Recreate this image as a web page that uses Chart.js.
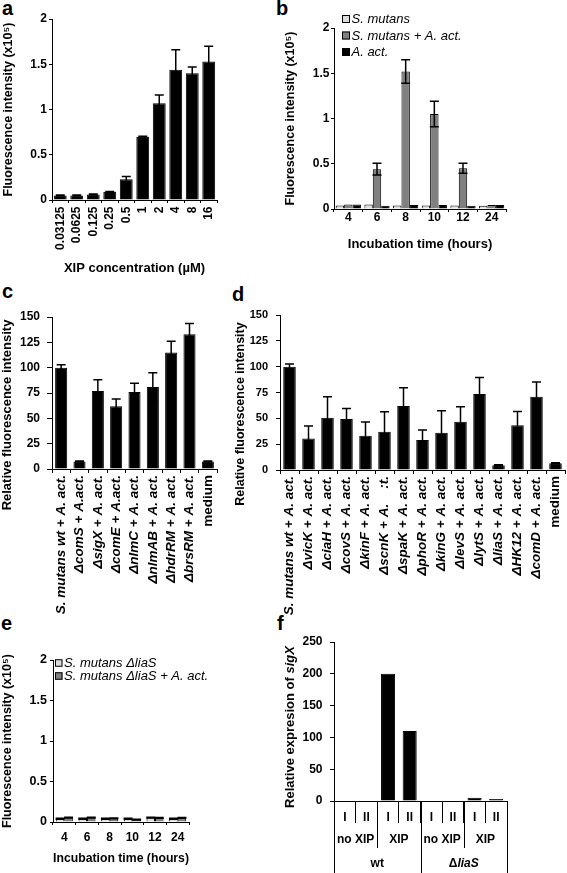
<!DOCTYPE html>
<html>
<head>
<meta charset="utf-8">
<script src="https://cdn.jsdelivr.net/npm/chart.js@4.4.1/dist/chart.umd.min.js"></script>
<style>
  body { margin: 0; background: #fff; width: 567px; height: 873px; position: relative; overflow: hidden; }
  canvas { position: absolute; }
  .lbl { position: absolute; font: bold 20px 'Liberation Sans', Arial, sans-serif; line-height: 20px; color: #000; }
</style>
</head>
<body>
<div class="lbl" style="left:2px;top:-2px">a</div>
<div class="lbl" style="left:276px;top:-2px">b</div>
<div class="lbl" style="left:2px;top:281px">c</div>
<div class="lbl" style="left:232px;top:284px">d</div>
<div class="lbl" style="left:1px;top:613px">e</div>
<div class="lbl" style="left:277px;top:613px">f</div>

<canvas id="chartA" width="228" height="276" style="left:0;top:0"></canvas>
<canvas id="chartB" width="284" height="252" style="left:283px;top:0"></canvas>
<canvas id="chartC" width="228" height="325" style="left:0;top:290px"></canvas>
<canvas id="chartD" width="339" height="325" style="left:228px;top:290px"></canvas>
<canvas id="chartE" width="228" height="266" style="left:0;top:600px"></canvas>
<canvas id="chartF" width="284" height="273" style="left:283px;top:600px"></canvas>

<script>
// panel a
const xipConc = ['0.03125', '0.0625', '0.125', '0.25', '0.5', '1', '2', '4', '8', '16'];
const xipFluor = [0.05, 0.05, 0.06, 0.09, 0.23, 0.70, 1.07, 1.44, 1.40, 1.53];
const xipErr = [0.005, 0.005, 0.005, 0.005, 0.03, 0.005, 0.09, 0.22, 0.07, 0.17];

// panel b
const hours = ['4', '6', '8', '10', '12', '24'];
const smutans = [0.04, 0.05, 0.04, 0.04, 0.04, 0.035];
const smutansAact = [0.05, 0.44, 1.52, 1.05, 0.45, 0.045];
const smutansAactErr = [0, 0.065, 0.13, 0.14, 0.055, 0];
const aact = [0.05, 0.035, 0.045, 0.045, 0.035, 0.045];

// panel c
const strainsC = ['S. mutans wt + A. act.', 'ΔcomS + A.act.', 'ΔsigX + A. act.', 'ΔcomE + A.act.',
  'ΔnlmC + A. act.', 'ΔnlmAB + A. act.', 'ΔhdrRM + A. act.', 'ΔbrsRM + A. act.', 'medium'];
const relC = [100, 7.5, 77, 62, 76, 81, 115, 133, 7.5];
const relCErr = [3, 0.5, 11, 7, 8.5, 14, 11, 10.5, 0.5];

// panel d
const strainsD = ['S. mutans wt + A. act.', 'ΔvicK + A. act.', 'ΔciaH + A. act.', 'ΔcovS + A. act.',
  'ΔkinF + A. act.', 'ΔscnK + A.    :t.', 'ΔspaK + A. act.', 'ΔphoR + A. act.', 'ΔkinG + A. act.',
  'ΔlevS + A. act.', 'ΔlytS + A. act.', 'ΔliaS + A. act.', 'ΔHK12 + A. act.', 'ΔcomD + A. act.', 'medium'];
const relD = [100, 30.5, 50.6, 49.4, 33.2, 37, 62, 29, 36, 46.8, 73.5, 4.5, 43.2, 71, 6.5];
const relDErr = [2.6, 12, 20.3, 10, 13.2, 19.4, 17.7, 9.7, 21.3, 14.5, 16.1, 0.6, 13.5, 14.2, 0.6];

// panel e
const liaS = [0.04, 0.04, 0.04, 0.04, 0.055, 0.04];
const liaSErr = [0.005, 0.005, 0.005, 0.005, 0.005, 0.005];
const liaSAact = [0.055, 0.055, 0.045, 0.03, 0.05, 0.05];
const liaSAactErr = [0.005, 0.005, 0.005, 0.005, 0.005, 0.005];

// panel f
const replicates = ['I', 'II', 'I', 'II', 'I', 'II', 'I', 'II'];
const sigX = [0, 0, 200, 110, 0, 0, 5, 3];
const treatments = ['no XIP', 'XIP', 'no XIP', 'XIP'];
const strainsF = ['wt', 'ΔliaS'];

const FONT = "'Liberation Sans', Arial, Helvetica, sans-serif";
Chart.defaults.font.family = FONT;
Chart.defaults.font.weight = 'bold';
Chart.defaults.color = '#000';
Chart.defaults.animation = false;
Chart.defaults.responsive = false;
Chart.defaults.devicePixelRatio = 1;
Chart.defaults.plugins.legend.display = false;
Chart.defaults.plugins.tooltip.enabled = false;

const LIGHT = '#dcdcdc';
const GREY = '#808080';

// keep axis boxes at a fixed size so the plot areas line up with the figure
function fixSize(dim, size) {
  return function (scale) {
    scale[dim] = size;
    scale.paddingLeft = scale.paddingRight = scale.paddingTop = scale.paddingBottom = 0;
  };
}

function yAxis(o) {
  return {
    min: 0, max: o.max,
    ticks: { stepSize: o.step, font: { size: o.tickSize }, padding: o.pad, color: '#000',
      callback: v => String(v) },
    grid: { drawOnChartArea: false, tickLength: o.tl, color: '#000' },
    border: { color: '#000', width: 1 },
    title: { display: !!o.title, text: o.title, font: { size: o.titleSize }, padding: 0, color: '#000' },
    afterFit: fixSize('width', o.width)
  };
}

function xAxis(o) {
  return {
    ticks: { font: o.tickFont || { size: o.tickSize }, padding: o.pad, autoSkip: false,
      maxRotation: o.rot || 0, minRotation: o.rot || 0, color: '#000' },
    grid: { drawOnChartArea: false, tickLength: o.tl, color: '#000', offset: true },
    border: { color: '#000', width: 1 },
    title: { display: !!o.title, text: o.title, font: { size: o.titleSize }, padding: 0, color: '#000' },
    afterFit: fixSize('height', o.height)
  };
}

// strain names in italics, "medium" upright
function strainFont(ctx) {
  const lbl = ctx.chart.data.labels[ctx.index];
  return { size: 13.5, style: lbl === 'medium' ? 'normal' : 'italic' };
}

const errorBars = {
  id: 'errorBars',
  afterDatasetsDraw(chart) {
    const ctx = chart.ctx;
    const y = chart.scales.y;
    chart.data.datasets.forEach((ds, di) => {
      if (!ds.errors) return;
      const meta = chart.getDatasetMeta(di);
      meta.data.forEach((bar, i) => {
        const e = ds.errors[i];
        if (!e) return;
        const v = ds.data[i];
        const top = y.getPixelForValue(v + e);
        const bot = y.getPixelForValue(Math.max(v - e, 0));
        ctx.save();
        ctx.strokeStyle = '#000';
        ctx.lineWidth = 1.5;
        ctx.beginPath();
        ctx.moveTo(bar.x, bot); ctx.lineTo(bar.x, top);
        ctx.moveTo(bar.x - 4.5, top); ctx.lineTo(bar.x + 4.5, top);
        ctx.moveTo(bar.x - 4.5, bot); ctx.lineTo(bar.x + 4.5, bot);
        ctx.stroke();
        ctx.restore();
      });
    });
  }
};

const boxLegend = {
  id: 'boxLegend',
  afterDraw(chart, args, opts) {
    if (!opts || opts.x === undefined) return;
    const ctx = chart.ctx;
    ctx.save();
    ctx.font = 'italic ' + opts.size + 'px ' + FONT;
    ctx.textBaseline = 'middle';
    ctx.textAlign = 'left';
    chart.data.datasets.forEach((ds, i) => {
      const cy = opts.y + i * opts.dy;
      ctx.fillStyle = ds.backgroundColor;
      ctx.fillRect(opts.x, cy - opts.box / 2, opts.box, opts.box);
      ctx.strokeStyle = '#000';
      ctx.lineWidth = 1;
      ctx.strokeRect(opts.x + 0.5, cy - opts.box / 2 + 0.5, opts.box - 1, opts.box - 1);
      ctx.fillStyle = '#000';
      ctx.fillText(ds.label, opts.x + opts.box + 1.5, cy + 0.5);
    });
    ctx.restore();
  }
};

function drawParts(ctx, parts, cx, cy) {
  let total = 0;
  parts.forEach(p => { ctx.font = p[1]; total += ctx.measureText(p[0]).width; });
  let x = cx - total / 2;
  parts.forEach(p => { ctx.font = p[1]; ctx.fillText(p[0], x, cy); x += ctx.measureText(p[0]).width; });
}

// rotated y title placed where the figure has it (not centred on the plot)
const yTitle = {
  id: 'yTitle',
  afterDraw(chart, args, opts) {
    if (!opts || !opts.parts) return;
    const ctx = chart.ctx;
    const f = 'bold ' + opts.size + 'px ' + FONT;
    ctx.save();
    ctx.fillStyle = '#000';
    ctx.textBaseline = 'middle';
    ctx.textAlign = 'left';
    ctx.translate(opts.x, opts.cy);
    ctx.rotate(-Math.PI / 2);
    drawParts(ctx, opts.parts.map(p => [p[0], (p[1] ? 'italic ' : '') + f]), 0, 0);
    ctx.restore();
  }
};

function barSet(label, data, color, errors) {
  return { label: label, data: data, backgroundColor: color, borderColor: '#000', borderWidth: 1, errors: errors };
}

// a
new Chart(document.getElementById('chartA'), {
  type: 'bar',
  data: { labels: xipConc, datasets: [barSet('XIP', xipFluor, '#000', xipErr)] },
  options: {
    layout: { padding: { left: 1, top: 19, right: 11, bottom: 0 } },
    datasets: { bar: { barPercentage: 0.78, categoryPercentage: 1 } },
    scales: {
      x: xAxis({ tickSize: 12, pad: 3.5, tl: 3, rot: 90, height: 76, title: 'XIP concentration (µM)', titleSize: 13 }),
      y: yAxis({ max: 2, step: 0.5, tickSize: 12, pad: 2, tl: 3, width: 51, title: 'Fluorescence intensity (x10⁵)', titleSize: 12.5 })
    }
  },
  plugins: [errorBars]
});

// b
new Chart(document.getElementById('chartB'), {
  type: 'bar',
  data: {
    labels: hours,
    datasets: [
      barSet('S. mutans', smutans, LIGHT),
      barSet('S. mutans + A. act.', smutansAact, GREY, smutansAactErr),
      barSet('A. act.', aact, '#000')
    ]
  },
  options: {
    layout: { padding: { left: 0, top: 28, right: 61, bottom: 0 } },
    datasets: { bar: { barPercentage: 1, categoryPercentage: 0.88 } },
    scales: {
      x: xAxis({ tickSize: 12, pad: -2, tl: 3, height: 43, title: 'Incubation time (hours)', titleSize: 13 }),
      y: yAxis({ max: 2, step: 0.5, tickSize: 12, pad: 1.5, tl: 3, width: 51, title: 'Fluorescence intensity (x10⁵)', titleSize: 12.5 })
    },
    plugins: { boxLegend: { x: 59, y: 19, dy: 16.5, box: 8, size: 13 } }
  },
  plugins: [errorBars, boxLegend]
});

// c
new Chart(document.getElementById('chartC'), {
  type: 'bar',
  data: { labels: strainsC, datasets: [barSet('c', relC, '#000', relCErr)] },
  options: {
    layout: { padding: { left: 0, top: 27, right: 11, bottom: 0 } },
    datasets: { bar: { barPercentage: 0.66, categoryPercentage: 1 } },
    scales: {
      x: xAxis({ tickFont: strainFont, pad: 2, tl: 4, rot: 90, height: 146 }),
      y: yAxis({ max: 150, step: 25, tickSize: 12, pad: 7, tl: 5, width: 52 })
    },
    plugins: { yTitle: { x: 7.8, cy: 125, size: 13, parts: [['Relative fluorescence intensity', false]] } }
  },
  plugins: [errorBars, yTitle]
});

// d
new Chart(document.getElementById('chartD'), {
  type: 'bar',
  data: { labels: strainsD, datasets: [barSet('d', relD, '#000', relDErr)] },
  options: {
    layout: { padding: { left: 5, top: 25, right: 2, bottom: 0 } },
    datasets: { bar: { barPercentage: 0.66, categoryPercentage: 1 } },
    scales: {
      x: xAxis({ tickFont: strainFont, pad: 2, tl: 4, rot: 90, height: 145 }),
      y: yAxis({ max: 150, step: 25, tickSize: 11, pad: 8, tl: 4, width: 47 })
    },
    plugins: { yTitle: { x: 13, cy: 124, size: 12.5, parts: [['Relative fluorescence intensity', false]] } }
  },
  plugins: [errorBars, yTitle]
});

// e
new Chart(document.getElementById('chartE'), {
  type: 'bar',
  data: {
    labels: hours,
    datasets: [
      barSet('S. mutans ΔliaS', liaS, LIGHT, liaSErr),
      barSet('S. mutans ΔliaS + A. act.', liaSAact, GREY, liaSAactErr)
    ]
  },
  options: {
    layout: { padding: { left: 0, top: 60, right: 39, bottom: 0 } },
    datasets: { bar: { barPercentage: 1, categoryPercentage: 0.75 } },
    scales: {
      x: xAxis({ tickSize: 12, pad: 5, tl: 3, height: 44, title: 'Incubation time (hours)', titleSize: 13 }),
      y: yAxis({ max: 2, step: 0.5, tickSize: 12.5, pad: 3, tl: 3, width: 53, title: 'Fluorescence intensity (x10⁵)', titleSize: 12.5 })
    },
    plugins: { boxLegend: { x: 55, y: 63, dy: 13, box: 7.5, size: 13 } }
  },
  plugins: [errorBars, boxLegend]
});

// f: grouped category axis below the I / II ticks
const tierAxis = {
  id: 'tierAxis',
  afterDraw(chart) {
    const ctx = chart.ctx;
    const x = chart.scales.x;
    const area = chart.chartArea;
    const half = (x.getPixelForValue(1) - x.getPixelForValue(0)) / 2;
    const edge = i => Math.round(x.getPixelForValue(i) - half) + 0.5;
    ctx.save();
    ctx.strokeStyle = '#000';
    ctx.lineWidth = 1;
    ctx.beginPath();
    for (let i = 0; i <= replicates.length; i += 2) {
      const full = i % 4 === 0;
      ctx.moveTo(edge(i), area.bottom);
      ctx.lineTo(edge(i), full ? chart.height : 248);
    }
    ctx.stroke();
    ctx.fillStyle = '#000';
    ctx.textBaseline = 'middle';
    ctx.textAlign = 'left';
    const b = 'bold 12px ' + FONT;
    treatments.forEach((t, k) => {
      const cx = (x.getPixelForValue(2 * k) + x.getPixelForValue(2 * k + 1)) / 2;
      drawParts(ctx, [[t, b]], cx, 240);
    });
    strainsF.forEach((s, k) => {
      const cx = (x.getPixelForValue(4 * k + 1) + x.getPixelForValue(4 * k + 2)) / 2;
      const parts = s.charAt(0) === 'Δ' ? [['Δ', b], [s.slice(1), 'italic ' + b]] : [[s, b]];
      drawParts(ctx, parts, cx, 264);
    });
    ctx.restore();
  }
};

new Chart(document.getElementById('chartF'), {
  type: 'bar',
  data: { labels: replicates, datasets: [barSet('f', sigX, '#000')] },
  options: {
    layout: { padding: { left: 0, top: 42, right: 60, bottom: 0 } },
    datasets: { bar: { barPercentage: 0.65, categoryPercentage: 1 } },
    scales: {
      x: xAxis({ tickSize: 12, pad: -13, tl: 22, height: 72 }),
      y: yAxis({ max: 250, step: 50, tickSize: 12, pad: 7.5, tl: 4, width: 51 })
    },
    plugins: { yTitle: { x: 7.5, cy: 127, size: 13, parts: [['Relative expresion of ', false], ['sigX', true]] } }
  },
  plugins: [tierAxis, yTitle]
});
</script>
</body>
</html>
